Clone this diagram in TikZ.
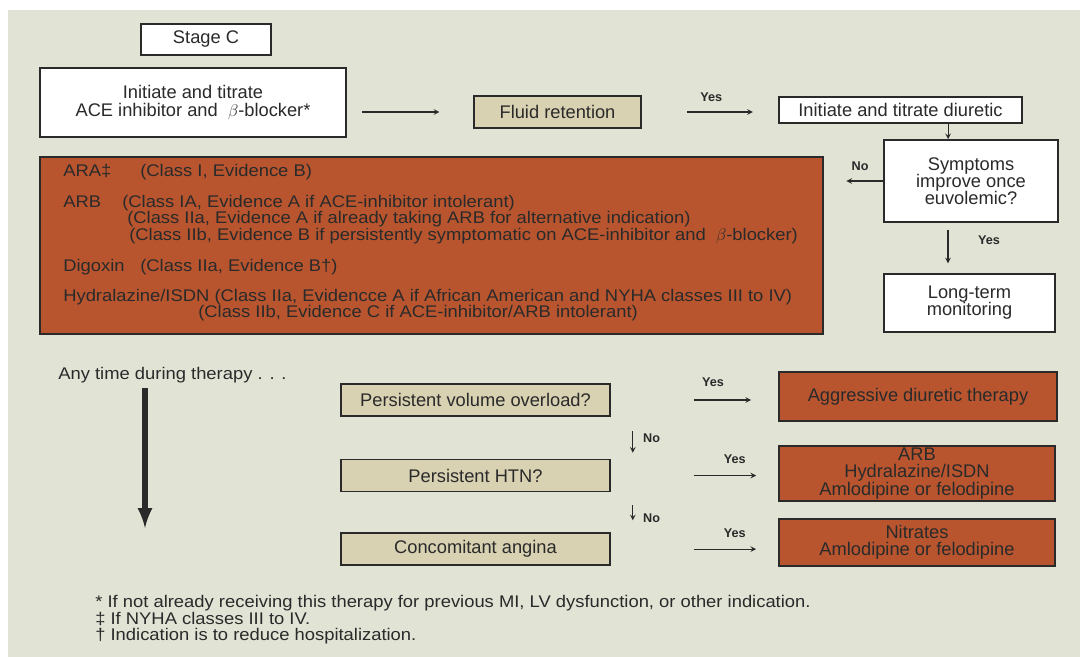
\documentclass[tikz,border=0pt]{standalone}
\usepackage{fontspec}
\setmainfont{Liberation Sans}
\newfontfamily\notefont[FakeStretch=1.09]{Liberation Sans}
\usepackage{xcolor}
\usetikzlibrary{positioning}
\definecolor{panel}{HTML}{E1E3D5}
\definecolor{tan}{HTML}{D8D2B3}
\definecolor{rust}{HTML}{B8552F}
\definecolor{ink}{HTML}{2A2A2A}

\begin{document}
\begin{tikzpicture}[
  x=0.025cm, y=-0.025cm,
  font=\fontsize{13}{12.2}\selectfont, text=ink,
  box/.style={draw=ink, line width=1.1pt, fill=white, align=center, inner sep=0pt},
  tanbox/.style={box, fill=tan, minimum width=6.725cm, minimum height=0.8cm},
  rustbox/.style={box, fill=rust},
  arr/.style={-stealth, line width=0.8pt, ink},
  bigarr/.style={-latex, line width=3.8pt, ink},
  lbl/.style={font=\fontsize{9}{9}\selectfont\bfseries, inner sep=1pt},
  note/.style={font=\notefont\fontsize{12}{11.7}\selectfont, anchor=base west, inner sep=0pt}
]
\fill[panel] (8,10) rectangle (1080,657);
\useasboundingbox (0,0) rectangle (1080,657);

% top row
\node[box, minimum width=3.25cm, minimum height=0.775cm] (stage) at (206,39.5) {Stage C};
\node[box, minimum width=7.65cm, minimum height=1.725cm] (init) at (193,102.5) {Initiate and titrate\\ACE inhibitor and \ $\beta$-blocker*};
\node[tanbox, minimum width=4.175cm] (fluid) at (557.5,112) {Fluid retention};
\node[box, minimum width=6.075cm, minimum height=0.65cm] (diur) at (900.5,110) {Initiate and titrate diuretic};
\node[box, minimum width=4.35cm, minimum height=2.05cm] (sympt) at (971,181) {Symptoms\\improve once\\euvolemic?};
\node[box, minimum width=4.275cm, minimum height=1.45cm] (longt) at (969.5,303) {Long-term\\monitoring};

% drug box
\node[rustbox, minimum width=19.575cm, minimum height=4.425cm] (drugs) at (431.5,245.5) {};
\node[note] (ara) at (63,176) {ARA\ddag};
\node[note] (araev) at (140,176) {(Class I, Evidence B)};
\node[note] (arb) at (63,207) {ARB};
\node[note] (arbev1) at (122,207) {(Class IA, Evidence A if ACE-inhibitor intolerant)};
\node[note] (arbev2) at (127,223.5) {(Class IIa, Evidence A if already taking ARB for alternative indication)};
\node[note] (arbev3) at (129,240) {(Class IIb, Evidence B if persistently symptomatic on ACE-inhibitor and \ $\beta$-blocker)};
\node[note] (dig) at (63,271) {Digoxin};
\node[note] (digev) at (140,271) {(Class IIa, Evidence B\dag)};
\node[note] (hyd) at (63,301) {Hydralazine/ISDN (Class IIa, Evidencce A if African American and NYHA classes III to IV)};
\node[note] (hydev) at (198,317) {(Class IIb, Evidence C if ACE-inhibitor/ARB intolerant)};

\draw[arr, shorten <=11pt, shorten >=24pt] (init.east |- fluid.west) -- (fluid.west);
\draw[arr, shorten <=32pt, shorten >=18pt] (fluid.east) -- (diur.west |- fluid.east) node[lbl, above=6pt, pos=0.51] {Yes};
\draw[arr] ([xshift=1.19cm]diur.south) -- ([xshift=1.19cm]diur.south |- sympt.north);
\draw[arr, shorten >=16pt] (sympt.west) -- (drugs.east |- sympt.west) node[lbl, above=6pt, pos=0.39] {No};
\draw[arr, shorten <=5pt, shorten >=7pt] ([xshift=-0.575cm]sympt.south) -- ([xshift=-0.575cm]sympt.south |- longt.north) node[lbl, right=20pt, pos=0.35] {Yes};

% any time during therapy
\node[note] (anytime) at (58,379) {Any time during therapy . . .};
\coordinate (tstart) at (145,388);
\coordinate (tend) at (145,528);
\draw[bigarr] (tstart) -- (tend);

\node[tanbox] (vol) at (475.5,400) {Persistent volume overload?};
\node[tanbox, below=1.05cm of vol] (htn) {Persistent HTN?};
\node[tanbox, below=1.0cm of htn] (angina) {Concomitant angina};

\node[rustbox, minimum width=6.95cm, minimum height=1.225cm] (aggr) at (918,396.5) {Aggressive diuretic therapy};
\node[rustbox, minimum width=6.9cm, minimum height=1.375cm] (htnrx) at (917,473.5) {ARB\\Hydralazine/ISDN\\Amlodipine or felodipine};
\node[rustbox, minimum width=6.9cm, minimum height=1.175cm] (angrx) at (917,542.5) {Nitrates\\Amlodipine or felodipine};

\draw[arr, shorten <=0.35cm, shorten >=0.15cm] ([xshift=0.55cm]vol.south east) -- ([xshift=0.55cm]htn.north east) node[lbl, right=6pt, pos=0.5] {No};
\draw[arr, shorten <=0.325cm, shorten >=0.3cm] ([xshift=0.55cm]htn.south east) -- ([xshift=0.55cm]angina.north east) node[lbl, right=6pt, pos=0.65] {No};

\draw[arr, shorten <=2.075cm, shorten >=0.675cm] (vol.east) -- (aggr.west |- vol.east) node[lbl, above=8pt, pos=0.61] {Yes};
\draw[arr, shorten <=2.075cm, shorten >=0.55cm] (htn.east) -- (htnrx.west |- htn.east) node[lbl, above=7pt, pos=0.74] {Yes};
\draw[arr, shorten <=2.075cm, shorten >=0.55cm] (angina.east) -- (angrx.west |- angina.east) node[lbl, above=7pt, pos=0.74] {Yes};

% footnotes
\node[note] (fn1) at (95,607) {* If not already receiving this therapy for previous MI, LV dysfunction, or other indication.};
\node[note] (fn2) at (95,624) {\ddag\ If NYHA classes III to IV.};
\node[note] (fn3) at (95,640) {\dag\ Indication is to reduce hospitalization.};
\end{tikzpicture}
\end{document}
